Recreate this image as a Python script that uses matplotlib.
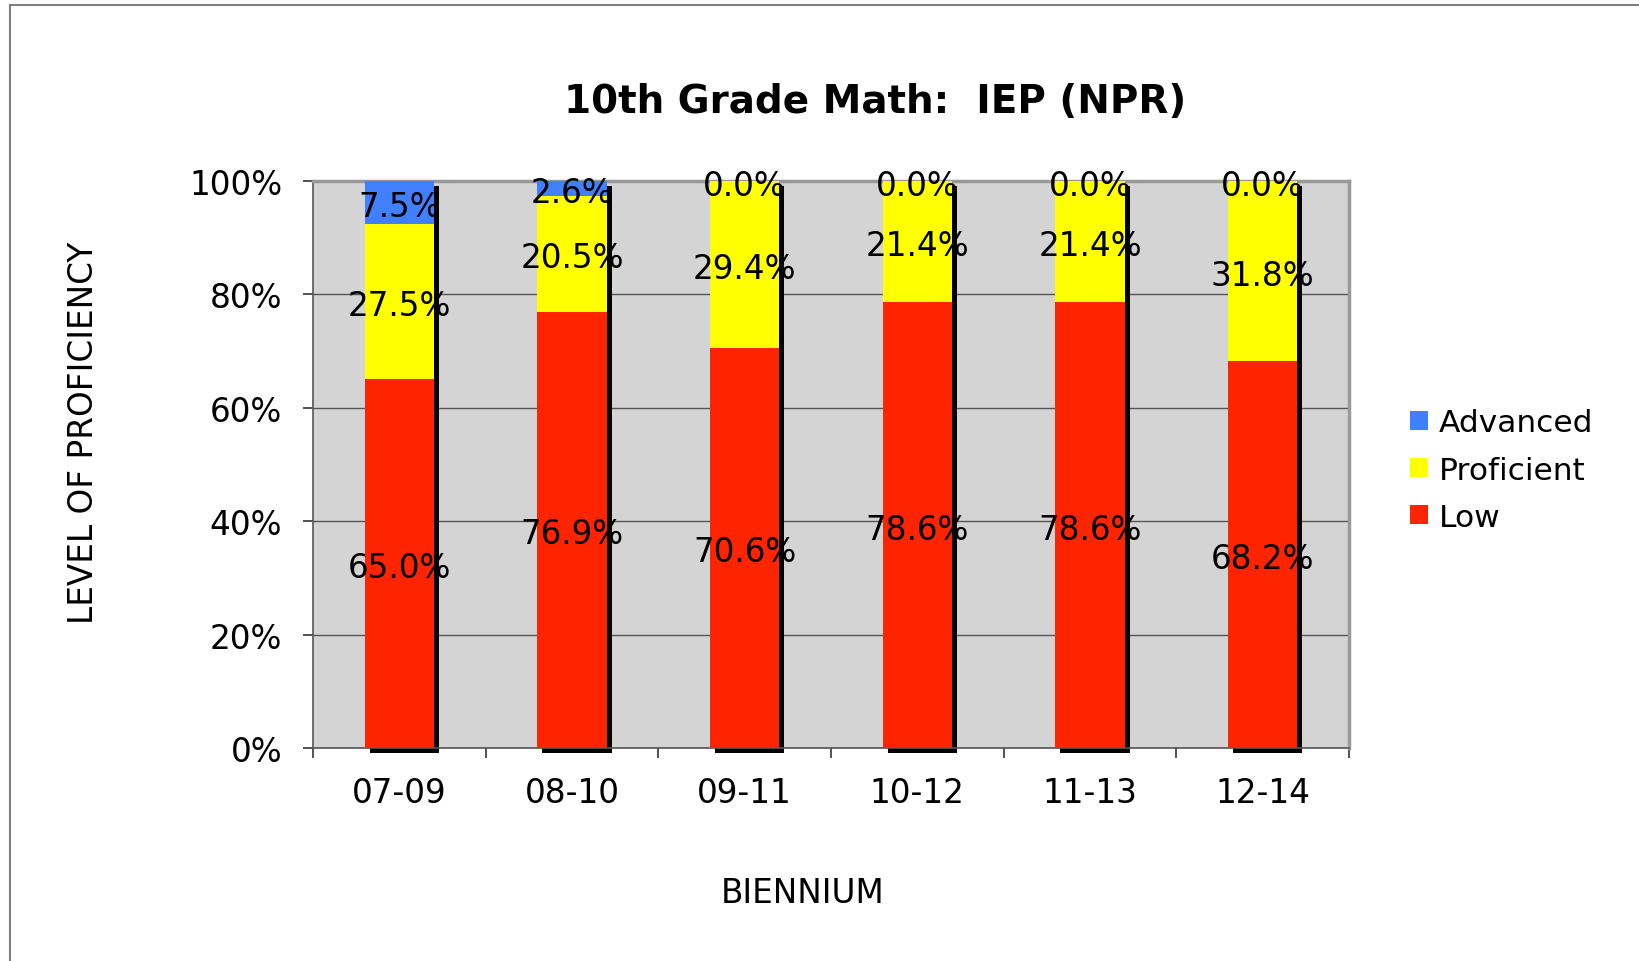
import matplotlib
matplotlib.use("Agg")
import matplotlib.pyplot as plt
from matplotlib.lines import Line2D
from matplotlib.transforms import offset_copy
import numpy as np

categories = ["07-09", "08-10", "09-11", "10-12", "11-13", "12-14"]
low = [65.0, 76.9, 70.6, 78.6, 78.6, 68.2]
proficient = [27.5, 20.5, 29.4, 21.4, 21.4, 31.8]
advanced = [7.5, 2.6, 0.0, 0.0, 0.0, 0.0]

title = "10th Grade Math:  IEP (NPR)"
xlabel = "BIENNIUM"
ylabel = "LEVEL OF PROFICIENCY"
yticks = [0, 20, 40, 60, 80, 100]

C_ADV = "#4080ff"
C_PRO = "#ffff00"
C_LOW = "#ff2400"
FS = 23.5

W, H = 1639, 962
fig = plt.figure(figsize=(W / 100, H / 100), dpi=100)
plt.rcParams["font.family"] = ["DejaVu Sans"]

ax = fig.add_axes([313 / W, 1 - 749 / H, (1349 - 313) / W, (749 - 182) / H])
ax.set_facecolor("#d4d4d4")

x = np.arange(len(categories))
low_a = np.array(low)
pro_a = np.array(proficient)
adv_a = np.array(advanced)
tot = low_a + pro_a + adv_a
bw = 0.4

# shadow
tr = offset_copy(ax.transData, fig=fig, x=5, y=-5, units="dots")
ax.bar(x, tot, bw, color="black", transform=tr, clip_on=False, zorder=2, linewidth=0)

ax.bar(x, low_a, bw, color=C_LOW, zorder=3, linewidth=0, label="Low")
ax.bar(x, pro_a, bw, bottom=low_a, color=C_PRO, zorder=3, linewidth=0, label="Proficient")
ax.bar(x, adv_a, bw, bottom=low_a + pro_a, color=C_ADV, zorder=3, linewidth=0, label="Advanced")

ttr = offset_copy(ax.transData, fig=fig, x=0, y=-4, units="dots")
for i in range(len(categories)):
    segs = [(0, low_a[i]), (low_a[i], pro_a[i]), (low_a[i] + pro_a[i], adv_a[i])]
    for b, v in segs:
        ax.text(x[i], b + v / 2, f"{v:.1f}%", ha="center", va="center",
                fontsize=FS, zorder=5, transform=ttr)

ax.set_xlim(-0.5, len(categories) - 0.5)
ax.set_ylim(0, 100)
ax.set_yticks(yticks)
ax.set_yticklabels([f"{t}%" for t in yticks])
ax.set_xticks(x)
ax.set_xticklabels(categories)
ax.set_xticks(np.arange(len(categories) + 1) - 0.5, minor=True)
ax.tick_params(axis="x", which="major", length=0, pad=20, labelsize=FS)
ax.tick_params(axis="x", which="minor", length=7.2, width=1.2, direction="out", color="#333333")
ax.tick_params(axis="y", length=7.2, width=1.2, direction="out", pad=15, labelsize=FS, color="#333333")

ax.yaxis.grid(True, color="#555555", linewidth=1.0, zorder=1)
ax.set_axisbelow(True)

for s in ["top", "right"]:
    ax.spines[s].set_color("#999999")
    ax.spines[s].set_linewidth(2.5)
for s in ["left", "bottom"]:
    ax.spines[s].set_color("#555555")
    ax.spines[s].set_linewidth(1.2)

fig.text(875 / W, 1 - 102 / H, title, ha="center", va="center",
         fontsize=28, fontweight="bold")
fig.text(84 / W, 1 - 433 / H, ylabel, ha="center", va="center",
         rotation=90, fontsize=FS)
fig.text(803 / W, 1 - 894 / H, xlabel, ha="center", va="center", fontsize=FS)

handles, labels = ax.get_legend_handles_labels()
handles = handles[::-1]
labels = labels[::-1]
fig.legend(handles, labels, loc="center left",
           bbox_to_anchor=(1410 / W, 1 - 471 / H), bbox_transform=fig.transFigure,
           frameon=False, fontsize=22.5, handlelength=0.56, handleheight=0.56,
           handletextpad=0.35, labelspacing=0.58, borderpad=0, borderaxespad=0)

# figure border (top and left visible)
fig.add_artist(Line2D([10 / W, 10 / W], [0, 1 - 6 / H], color="#808080",
                      linewidth=1.5, transform=fig.transFigure))
fig.add_artist(Line2D([10 / W, 1], [1 - 6 / H, 1 - 6 / H], color="#808080",
                      linewidth=1.5, transform=fig.transFigure))

fig.savefig("out.png", dpi=100)
